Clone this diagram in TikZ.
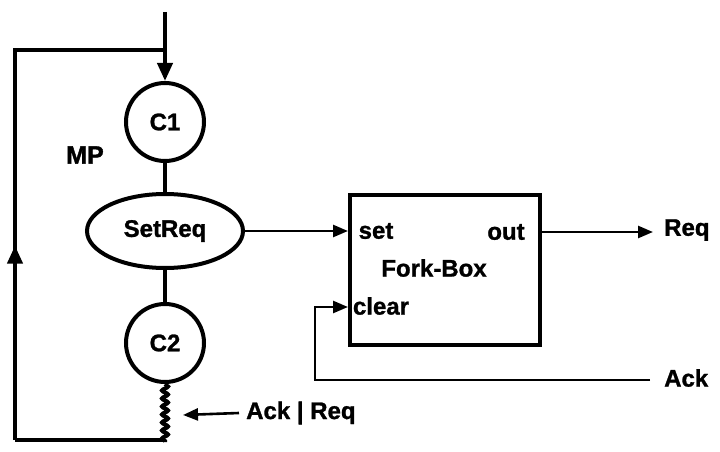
\documentclass[tikz,border=0pt]{standalone}
\usepackage{fontspec}
\setmainfont{Liberation Sans}[FakeBold=1.2]
\newfontfamily\heavyfont{Liberation Sans Bold}[FakeBold=1.5]
\usetikzlibrary{arrows.meta,decorations.pathmorphing,decorations.markings,shapes.geometric}
\begin{document}
\begin{tikzpicture}[x=1pt,y=-1pt,
  txt/.style={font=\fontsize{24}{28}\selectfont\bfseries, inner sep=0pt},
  main/.style={line width=4pt},
  thin/.style={line width=2.6pt},
  bigtip/.style={-{Triangle[length=18pt,width=15pt]}},
  smalltip/.style={-{Triangle[length=15pt,width=12pt]}},
  circ/.style={circle, draw, line width=4pt, minimum size=78pt, inner sep=0pt, font=\fontsize{24}{28}\selectfont\bfseries},
  oval/.style={ellipse, draw, line width=4pt, minimum width=156pt, minimum height=74pt, inner sep=0pt, font=\fontsize{24}{28}\selectfont\bfseries},
  box/.style={draw, line width=4pt, minimum width=190pt, minimum height=150pt, inner sep=0pt},
  midup/.style={decoration={markings, mark=at position 0.36 with {\arrow{Triangle[length=18pt,width=15pt]}}}, postaction={decorate}}
]
\useasboundingbox (0,0) rectangle (720,452);
% nodes
\node[circ] (C1) at (165,122) {C1};
\node[oval] (SR) at (165,231) {SetReq};
\node[circ] (C2) at (165,343) {C2};
\node[inner sep=0pt, font=\fontsize{25}{28}\selectfont\heavyfont] (MP) at (85,155) {MP};
\node[box] (FB) at (445,270) {};
\node[txt] (set) at (376,231) {set};
\node[txt] (out) at (506,232) {out};
\node[txt] (fork) at (434,268) {Fork-Box};
\node[txt] (clr) at (381,306) {clear};
\node[txt, anchor=west] (req) at (664,230) {Req};
\node[txt, anchor=west] (ack) at (664,378) {Ack};
\node[txt, anchor=west] (ar) at (246,413) {Ack | Req};
% coordinates
\coordinate (top) at (165,12);
\coordinate (junc) at (165,50);
\coordinate (tl) at (15,50);
\coordinate (bl) at (15,440);
\coordinate (wend) at (165,442);
\coordinate (reqend) at (653,232);
\coordinate (ackstart) at (650,380);
\coordinate (ackcorner) at (315,380);
\coordinate (clrcorner) at (315,307);
\coordinate (artip) at (183,415);
% connectors
\draw[main, bigtip] (top) -- (C1.north);
\draw[main] (C1.south) -- (SR.north);
\draw[main] (SR.south) -- (C2.north);
\draw[main, decorate, decoration={snake, amplitude=3pt, segment length=8pt}] (C2.south) -- (wend);
\draw[main] (wend |- bl) -- (bl);
\draw[main, midup, line join=miter] (bl) -- (tl) -- (junc);
\draw[thin, smalltip] (SR.east) -- (SR.east -| FB.west);
\draw[thin, smalltip] (FB.east |- reqend) -- (reqend);
\draw[thin, smalltip] (ackstart) -- (ackcorner) -- (clrcorner) -- (clrcorner -| FB.west);
\draw[thin, smalltip] ([xshift=-7pt]ar.west) -- (artip);
\end{tikzpicture}
\end{document}
